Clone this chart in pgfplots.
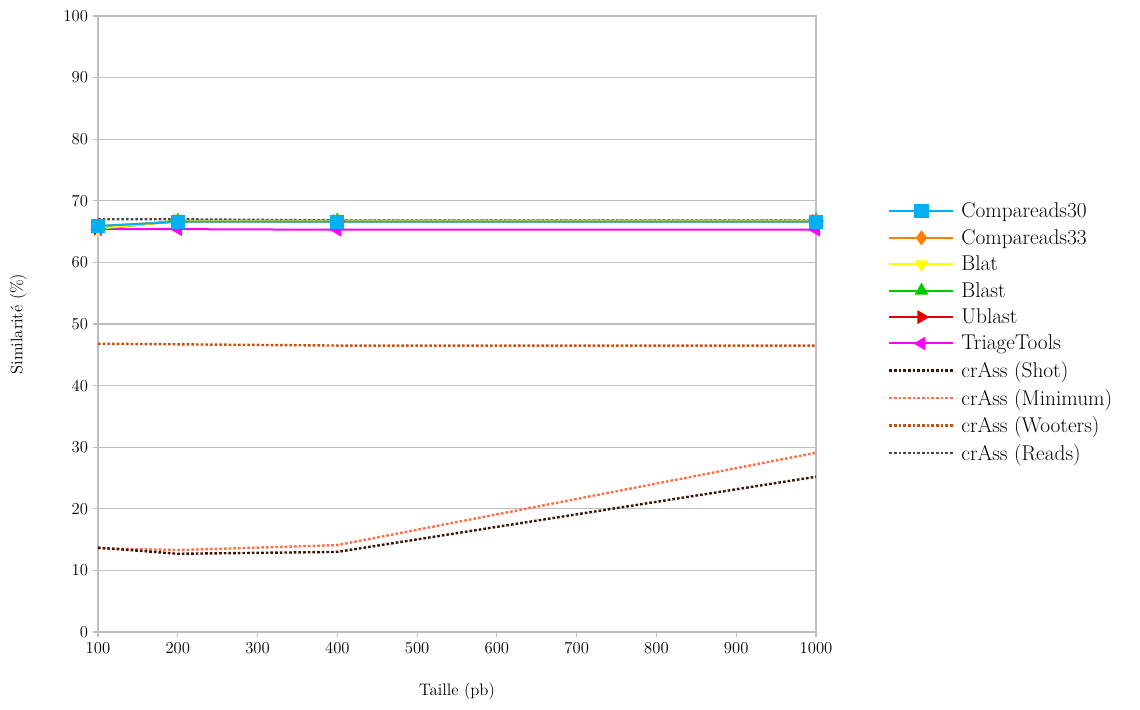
\documentclass[border=0pt]{standalone}
\usepackage{pgfplots}
\pgfplotsset{compat=1.18}
\definecolor{c30}{RGB}{0,176,240}
\definecolor{c33}{RGB}{255,128,0}
\definecolor{cblat}{RGB}{255,255,0}
\definecolor{cblast}{RGB}{0,200,0}
\definecolor{cublast}{RGB}{230,0,0}
\definecolor{ctriage}{RGB}{255,0,255}
\definecolor{cshot}{RGB}{60,20,5}
\definecolor{cmin}{RGB}{255,110,70}
\definecolor{cwoot}{RGB}{200,80,10}
\definecolor{creads}{RGB}{70,70,70}
\definecolor{axgray}{RGB}{190,190,190}
\begin{document}
\begin{tikzpicture}
\begin{axis}[
  name=ax,
  scale only axis,
  width=538.5pt, height=462pt,
  xmin=100, xmax=1000, ymin=0, ymax=100,
  xtick={100,200,...,1000}, ytick={0,10,...,100},
  ymajorgrids, grid style={draw=axgray, line width=0.8pt},
  axis line style={draw=axgray, line width=1pt},
  tick style={draw=axgray, line width=0.8pt},
  tick align=outside, major tick length=4pt,
  xtick pos=bottom, ytick pos=left,
  /pgf/number format/assume math mode=true,
  /pgf/number format/set thousands separator={},
  ticklabel style={font=\fontsize{12.5}{14}\selectfont},
  xlabel={Taille (pb)}, ylabel={Similarité (\%)},
  every axis x label/.style={at={(axis description cs:0.5,-0.097)},anchor=center,font=\fontsize{12.5}{14}\selectfont},
  every axis y label/.style={at={(axis description cs:-0.111,0.5)},rotate=90,anchor=center,font=\fontsize{12.5}{14}\selectfont},
  legend style={draw=none, fill=none, at={(axis description cs:1,0.5)}, anchor=west,
    xshift=54pt, yshift=-6.4pt, inner sep=0pt, row sep=3.2pt,
    font=\fontsize{16}{18}\selectfont, cells={anchor=west},
    nodes={inner xsep=5pt}},
  legend cell align=left,
  reverse legend,
  legend image code/.code={\draw[mark repeat=2,mark phase=2] plot coordinates {(0pt,0pt) (24pt,0pt) (48pt,0pt)};},
  every axis plot/.append style={line width=1.5pt},
]
\addplot[creads, line width=1.8pt, dash pattern=on 2pt off 1.5pt] coordinates {(100,67.0) (200,67.0) (400,66.8) (1000,66.8)};
\addlegendentry{crAss (Reads)}
\addplot[cwoot, line width=1.8pt, dash pattern=on 2pt off 1.5pt] coordinates {(100,46.8) (200,46.7) (400,46.5) (1000,46.5)};
\addlegendentry{crAss (Wooters)}
\addplot[cmin, line width=1.8pt, dash pattern=on 2pt off 1.5pt] coordinates {(100,13.6) (200,13.3) (400,14.1) (1000,29.1)};
\addlegendentry{crAss (Minimum)}
\addplot[cshot, line width=1.8pt, dash pattern=on 2pt off 1.5pt] coordinates {(100,13.7) (200,12.7) (400,13.0) (1000,25.2)};
\addlegendentry{crAss (Shot)}
\addplot[ctriage, mark=triangle*, mark options={rotate=90}, mark size=4.5pt] coordinates {(100,65.4) (200,65.4) (400,65.3) (1000,65.3)};
\addlegendentry{TriageTools}
\addplot[cublast, mark=triangle*, mark options={rotate=-90}, mark size=4.5pt] coordinates {(100,65.5) (200,66.7) (400,66.7) (1000,66.7)};
\addlegendentry{Ublast}
\addplot[cblast, mark=triangle*, mark size=4.5pt] coordinates {(100,65.4) (200,66.8) (400,66.8) (1000,66.8)};
\addlegendentry{Blast}
\addplot[cblat, mark=triangle*, mark options={rotate=180}, mark size=4.5pt] coordinates {(100,65.5) (200,66.7) (400,66.7) (1000,66.7)};
\addlegendentry{Blat}
\addplot[c33, mark=diamond*, mark size=4.5pt] coordinates {(100,65.9) (200,66.6) (400,66.6) (1000,66.6)};
\addlegendentry{Compareads33}
\addplot[c30, mark=square*, mark size=4.6pt] coordinates {(100,65.9) (200,66.6) (400,66.6) (1000,66.6)};
\addlegendentry{Compareads30}
\end{axis}
\pgfresetboundingbox
\path[use as bounding box] ([xshift=-73.5pt,yshift=-57.75pt]ax.south west) rectangle ([xshift=243pt,yshift=12pt]ax.north east);
\end{tikzpicture}
\end{document}
